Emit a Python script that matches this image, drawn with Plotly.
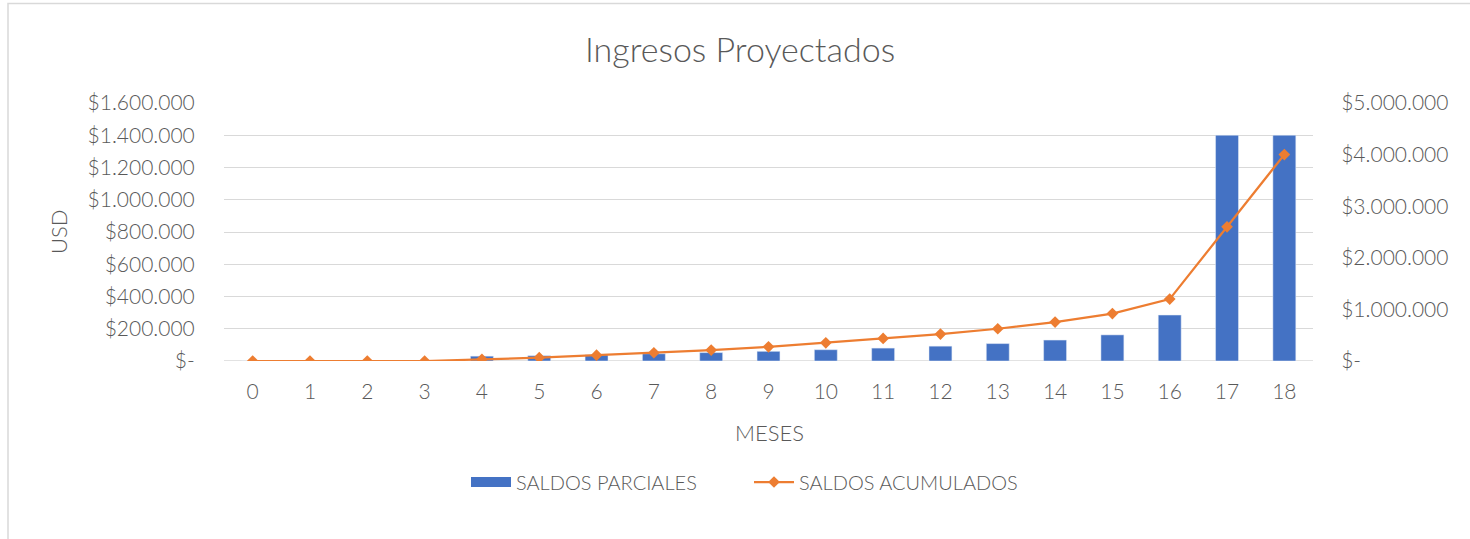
import plotly.graph_objects as go

# Months of the projection
meses = list(range(19))
mes_labels = [str(m) for m in meses]

# Monthly income (left axis) and accumulated income (right axis), USD
saldos_parciales = [0, 0, 0, 0, 30000, 33000, 38000, 45000, 52000, 60000,
                    70000, 80000, 92000, 108000, 130000, 162000, 285000,
                    1400000, 1400000]
saldos_acumulados = [0, 0, 0, 0, 32000, 64000, 112000, 160000, 212000, 275000,
                     352000, 438000, 522000, 625000, 755000, 920000, 1200000,
                     2600000, 4000000]

# Axis ticks
y1_vals = [0, 200000, 400000, 600000, 800000, 1000000, 1200000, 1400000, 1600000]
y1_text = ["$-", "$200.000", "$400.000", "$600.000", "$800.000", "$1.000.000",
           "$1.200.000", "$1.400.000", "$1.600.000"]
y2_vals = [0, 1000000, 2000000, 3000000, 4000000, 5000000]
y2_text = ["$-", "$1.000.000", "$2.000.000", "$3.000.000", "$4.000.000", "$5.000.000"]

BLUE = "#4472C4"
ORANGE = "#ED7D31"
TEXT = "#595959"
GRID = "#D9D9D9"
FONT = "Lato"
FS = 21

W, H = 1470, 539
L, R, T, B = 224, 1313, 103, 361  # plot area in pixels


def px(x):
    return (x - L) / (R - L)


def py(y):
    return (B - y) / (B - T)


def tfont(size=FS):
    return dict(family=FONT, size=size, color=TEXT, weight=300)


fig = go.Figure()

fig.add_trace(go.Bar(
    x=meses, y=saldos_parciales, name="SALDOS PARCIALES",
    marker=dict(color=BLUE), showlegend=False, legendgroup="p",
))
# wide swatch for the bar series in the legend
fig.add_trace(go.Scatter(
    x=[None], y=[None], mode="lines", name="SALDOS PARCIALES",
    line=dict(color=BLUE, width=12), legendgroup="p",
))
fig.add_trace(go.Scatter(
    x=meses, y=saldos_acumulados, name="SALDOS ACUMULADOS", yaxis="y2",
    mode="lines+markers",
    line=dict(color=ORANGE, width=2.25),
    marker=dict(symbol="diamond", size=9, color=ORANGE),
))

fig.update_layout(
    width=W, height=H,
    margin=dict(l=L, r=W - R, t=T, b=H - B, pad=0),
    paper_bgcolor="white", plot_bgcolor="white",
    font=tfont(),
    bargap=0.6,
    showlegend=True,
    legend=dict(orientation="h", x=px(466), y=py(482), yanchor="middle",
                xanchor="left", font=tfont(20),
                itemwidth=40, traceorder="normal", bgcolor="rgba(0,0,0,0)",
                entrywidth=228, entrywidthmode="pixels"),
    xaxis=dict(range=[-0.5, 18.5], tickvals=meses, ticktext=mes_labels,
               showgrid=False, zeroline=False, showline=False,
               ticks="outside", ticklen=12, tickcolor="rgba(0,0,0,0)",
               tickfont=tfont(), fixedrange=True),
    yaxis=dict(range=[0, 1600000], tickvals=y1_vals, ticktext=y1_text,
               showgrid=True, gridcolor=GRID, gridwidth=1.3,
               zeroline=False, showline=False,
               ticks="outside", ticklen=24, tickcolor="rgba(0,0,0,0)",
               tickfont=tfont()),
    yaxis2=dict(range=[0, 5000000], tickvals=y2_vals, ticktext=y2_text,
                overlaying="y", side="right", showgrid=False,
                zeroline=False, showline=False,
                ticks="outside", ticklen=23, tickcolor="rgba(0,0,0,0)",
                tickfont=tfont()),
    annotations=[
        dict(text="Ingresos Proyectados", x=px(740), y=py(48),
             xref="paper", yref="paper", showarrow=False,
             xanchor="center", yanchor="middle", font=tfont(34)),
        dict(text="USD", x=px(58), y=py(232), xref="paper", yref="paper",
             showarrow=False, textangle=-90, xanchor="center", yanchor="middle",
             font=tfont(22)),
        dict(text="MESES", x=px(769), y=py(432), xref="paper", yref="paper",
             showarrow=False, xanchor="center", yanchor="middle",
             font=tfont(22)),
    ],
    shapes=[
        dict(type="rect", xref="paper", yref="paper",
             x0=px(8), x1=px(1480), y0=py(550), y1=py(3.5),
             line=dict(color="#D9D9D9", width=1.5), fillcolor="rgba(0,0,0,0)",
             layer="below"),
        # baseline of the value axis
        dict(type="line", xref="paper", yref="y", x0=0, x1=1, y0=0, y1=0,
             line=dict(color=GRID, width=1.5), layer="below"),
    ],
)

fig.write_html("out.html")
